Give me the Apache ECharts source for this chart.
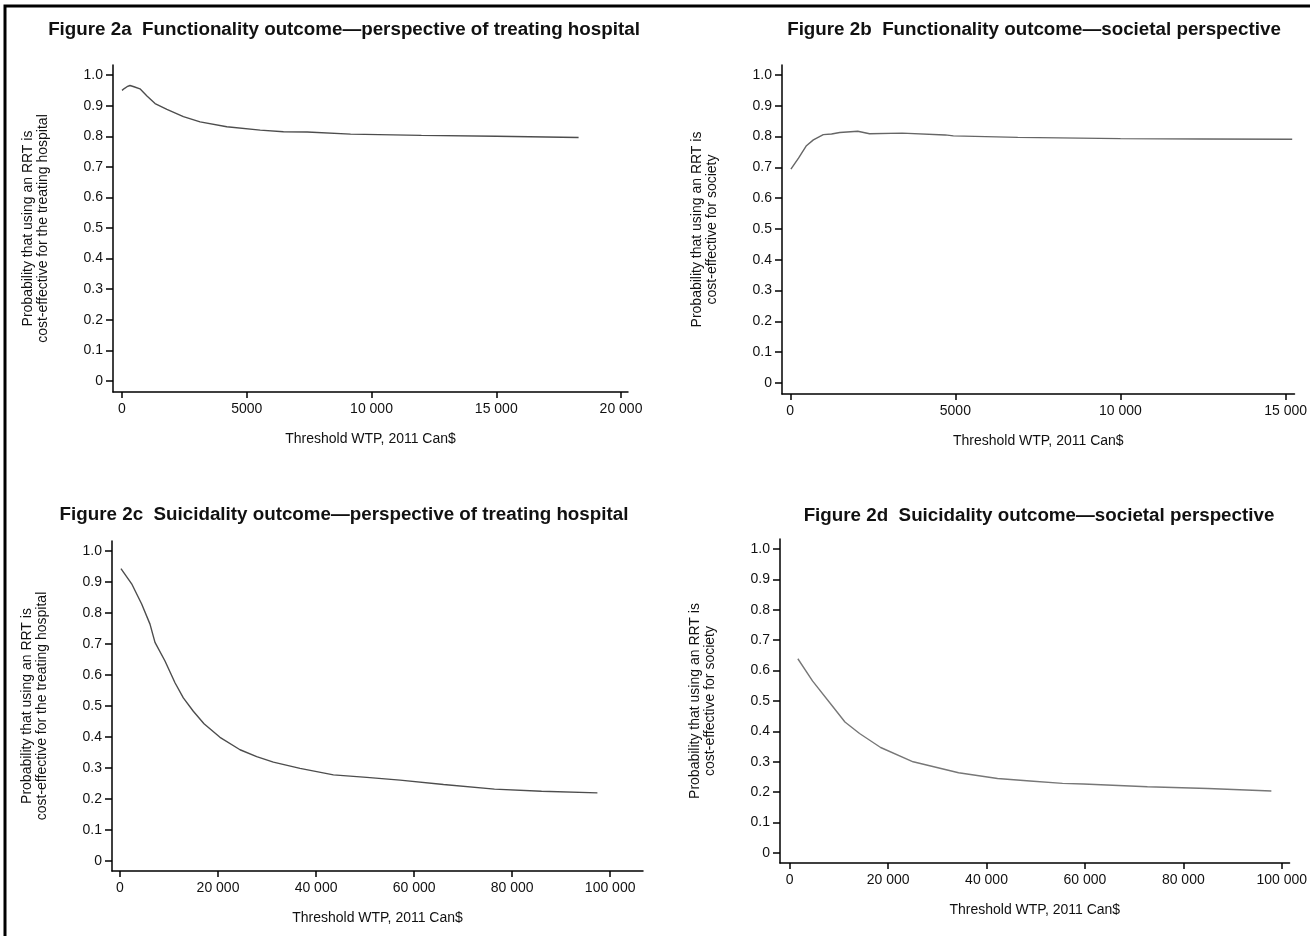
<!DOCTYPE html>
<html>
<head>
<meta charset="utf-8">
<script src="https://cdn.jsdelivr.net/npm/echarts@6/dist/echarts.min.js"></script>
<style>
  html, body { margin: 0; padding: 0; background: #fff; }
  #chart { width: 1310px; height: 936px; }
</style>
</head>
<body>
<div id="chart"></div>
<script>
  // panel titles
  const titles = [
    'Figure 2a  Functionality outcome\u2014perspective of treating hospital',
    'Figure 2b  Functionality outcome\u2014societal perspective',
    'Figure 2c  Suicidality outcome\u2014perspective of treating hospital',
    'Figure 2d  Suicidality outcome\u2014societal perspective',
  ]
  const xName = 'Threshold WTP, 2011 Can$'
  const yNameHospital = 'Probability that using an RRT is\ncost-effective for the treating hospital'
  const yNameSociety = 'Probability that using an RRT is\ncost-effective for society'

  // tick values
  const yTicks = [0, 0.1, 0.2, 0.3, 0.4, 0.5, 0.6, 0.7, 0.8, 0.9, 1.0]
  const xTicksA = [0, 5000, 10000, 15000, 20000]
  const xTicksB = [0, 5000, 10000, 15000]
  const xTicksCD = [0, 20000, 40000, 60000, 80000, 100000]

  // 2a functionality, hospital
  const wtpA = [0, 90, 200, 320, 480, 720, 1000, 1325, 1800, 2460, 3130, 4200, 5540, 6470, 7420, 9160, 12000, 15000, 18300]
  const probA = [0.95, 0.956, 0.962, 0.966, 0.962, 0.955, 0.932, 0.907, 0.888, 0.864, 0.847, 0.831, 0.82, 0.815, 0.814, 0.807, 0.803, 0.8, 0.796]

  // 2b functionality, society
  const wtpB = [20, 250, 480, 700, 1000, 1250, 1500, 2045, 2400, 3390, 3440, 4690, 4940, 6890, 10000, 12500, 15200]
  const probB = [0.694, 0.73, 0.769, 0.789, 0.806, 0.808, 0.813, 0.817, 0.809, 0.811, 0.806, 0.805, 0.802, 0.797, 0.793, 0.792, 0.791]

  // 2c suicidality, hospital
  const wtpC = [200, 2380, 4420, 6120, 7140, 9180, 11220, 12920, 14960, 17140, 20400, 24490, 27890, 31290, 36730, 43540, 50340, 57140, 66000, 76400, 86000, 97400]
  const probC = [0.943, 0.894, 0.829, 0.764, 0.705, 0.645, 0.575, 0.526, 0.483, 0.443, 0.399, 0.359, 0.337, 0.319, 0.299, 0.278, 0.27, 0.261, 0.247, 0.232, 0.225, 0.22]

  // 2d suicidality, society
  const wtpD = [1650, 4620, 8580, 11220, 14190, 18480, 25080, 34320, 42240, 48840, 55450, 59700, 72700, 85000, 97900]
  const probD = [0.639, 0.566, 0.485, 0.431, 0.393, 0.347, 0.3, 0.264, 0.245, 0.237, 0.229, 0.227, 0.218, 0.212, 0.204]

  const font = 'Liberation Sans, Arial, sans-serif'
  const ink = '#111'

  function fmtX(v) {
    if (v < 10000) return String(v)
    return String(v).replace(/\B(?=(\d{3})+(?!\d))/g, ' ')
  }

  function fmtY(v) {
    return v === 0 ? '0' : v.toFixed(1)
  }

  function pair(xs, ys) {
    return xs.map((x, i) => [x, ys[i]])
  }

  const panels = [
    { grid: { left: 113, top: 65, width: 515, height: 327 }, x: [-361, 20280], y: [-0.036, 1.033], ticks: xTicksA, yName: yNameHospital, data: pair(wtpA, probA), title: [339, 15], lineColor: '#4d4d4d' },
    { grid: { left: 782, top: 65, width: 518, height: 329 }, x: [-250, 15270], y: [-0.036, 1.032], ticks: xTicksB, yName: yNameSociety, data: pair(wtpB, probB), title: [1029, 15], lineColor: '#666' },
    { grid: { left: 112, top: 541, width: 531, height: 330 }, x: [-1630, 106700], y: [-0.032, 1.032], ticks: xTicksCD, yName: yNameHospital, data: pair(wtpC, probC), title: [339, 500], lineColor: '#4d4d4d' },
    { grid: { left: 780, top: 539, width: 523, height: 324 }, x: [-1980, 101600], y: [-0.033, 1.033], ticks: xTicksCD, yName: yNameSociety, data: pair(wtpD, probD), title: [1034, 501], lineColor: '#777' },
  ]

  const axisLine = { show: true, onZero: false, lineStyle: { color: '#000', width: 1.5 } }

  const option = {
    animation: false,
    backgroundColor: '#fff',
    title: panels.map((p, i) => ({
      text: titles[i],
      left: p.title[0],
      top: p.title[1],
      textAlign: 'center',
      textStyle: { fontFamily: font, fontSize: 18.8, fontWeight: 'bold', color: ink },
    })),
    grid: panels.map((p) => p.grid),
    xAxis: panels.map((p, i) => ({
      type: 'value',
      gridIndex: i,
      min: p.x[0],
      max: p.x[1],
      name: xName,
      nameLocation: 'middle',
      nameGap: 40,
      nameTextStyle: { fontFamily: font, fontSize: 14, color: ink },
      axisLine,
      axisTick: { show: true, length: 6, customValues: p.ticks, lineStyle: { color: '#000', width: 1.5 } },
      axisLabel: { customValues: p.ticks, formatter: fmtX, margin: 10, fontFamily: font, fontSize: 14, color: ink },
      splitLine: { show: false },
    })),
    yAxis: panels.map((p, i) => ({
      type: 'value',
      gridIndex: i,
      min: p.y[0],
      max: p.y[1],
      name: p.yName,
      nameLocation: 'middle',
      nameRotate: 90,
      nameGap: 62,
      nameTextStyle: { fontFamily: font, fontSize: 14, color: ink, lineHeight: 15 },
      axisLine,
      axisTick: { show: true, length: 7, customValues: yTicks, lineStyle: { color: '#000', width: 1.5 } },
      axisLabel: { customValues: yTicks, formatter: fmtY, margin: 10, fontFamily: font, fontSize: 14, color: ink },
      splitLine: { show: false },
    })),
    series: panels.map((p, i) => ({
      type: 'line',
      xAxisIndex: i,
      yAxisIndex: i,
      data: p.data,
      showSymbol: false,
      smooth: false,
      lineStyle: { color: p.lineColor, width: 1.4 },
    })),
    graphic: [
      {
        type: 'rect',
        shape: { x: 5, y: 6, width: 1400, height: 1000 },
        style: { fill: 'none', stroke: '#000', lineWidth: 3 },
      },
    ],
  }

  const chart = echarts.init(document.getElementById('chart'), undefined, { renderer: 'canvas' })
  chart.setOption(option)
</script>
</body>
</html>
